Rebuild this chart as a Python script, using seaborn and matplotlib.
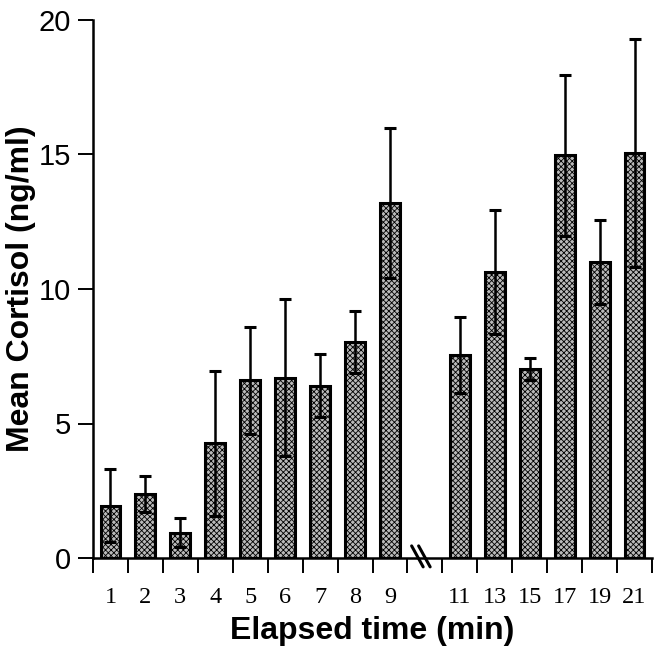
import numpy as np
import pandas as pd
import matplotlib
matplotlib.use("Agg")
import matplotlib.pyplot as plt
import seaborn as sns

# Data
times = ['1', '2', '3', '4', '5', '6', '7', '8', '9', '11', '13', '15', '17', '19', '21']
cortisol = [1.95, 2.38, 0.94, 4.26, 6.6, 6.71, 6.4, 8.03, 13.2, 7.55, 10.62, 7.03, 14.97, 11.0, 15.06]
sem = [1.35, 0.68, 0.53, 2.7, 2.0, 2.9, 1.17, 1.15, 2.8, 1.4, 2.3, 0.4, 3.0, 1.55, 4.25]

# category order, with an empty slot for the axis break
order = times[:9] + [''] + times[9:]

df = pd.DataFrame({'time': times, 'cortisol': cortisol, 'sem': sem})

sns.set_style('ticks')
plt.rcParams.update({
    'hatch.linewidth': 0.6,
    'text.color': 'black',
    'axes.labelcolor': 'black',
    'axes.edgecolor': 'black',
    'xtick.color': 'black',
    'ytick.color': 'black',
})

fig = plt.figure(figsize=(6.57, 6.57), dpi=100)
ax = fig.add_axes([93/657, 99/657, 559/657, 538/657])

sns.barplot(data=df, x='time', y='cortisol', order=order, color='#bababa',
            width=0.57, edgecolor='black', linewidth=2.2, hatch='xxxxxx',
            saturation=1, errorbar=None, ax=ax)

# Error bars (SEM) on top of the bars
xpos = [order.index(t) for t in df['time']]
ax.errorbar(xpos, df['cortisol'], yerr=df['sem'], fmt='none', ecolor='black',
            elinewidth=1.8, capsize=4, capthick=2.2, zorder=5)

ax.set_xlim(-0.5, 15.5)
ax.set_ylim(0, 20)
sns.despine(ax=ax)
for s in ['left', 'bottom']:
    ax.spines[s].set_linewidth(1.8)

ax.set_yticks([0, 5, 10, 15, 20])
ax.tick_params(axis='y', length=11, width=1.4, pad=5, labelsize=21)
for lab in ax.get_yticklabels():
    lab.set_fontfamily('Liberation Sans')

ax.set_xticks(range(len(order)))
ax.set_xticklabels(order, fontfamily='Liberation Serif', fontsize=17.5)
ax.tick_params(axis='x', which='major', length=0, pad=21)
ax.set_xticks(np.arange(-0.5, 16, 1), minor=True)
ax.tick_params(axis='x', which='minor', length=11, width=1.4, direction='out')

# axis break mark
for x0 in [8.62, 8.82]:
    ax.plot([x0, x0 + 0.33], [0.45, -0.33], color='black', lw=2.2,
            clip_on=False, zorder=6)

ax.set_xlabel('Elapsed time (min)', fontfamily='Liberation Sans',
              fontweight='bold', fontsize=23, labelpad=6)
ax.set_ylabel('Mean Cortisol (ng/ml)', fontfamily='Liberation Sans',
              fontweight='bold', fontsize=23, labelpad=2)

plt.savefig('out.png', dpi=100)
